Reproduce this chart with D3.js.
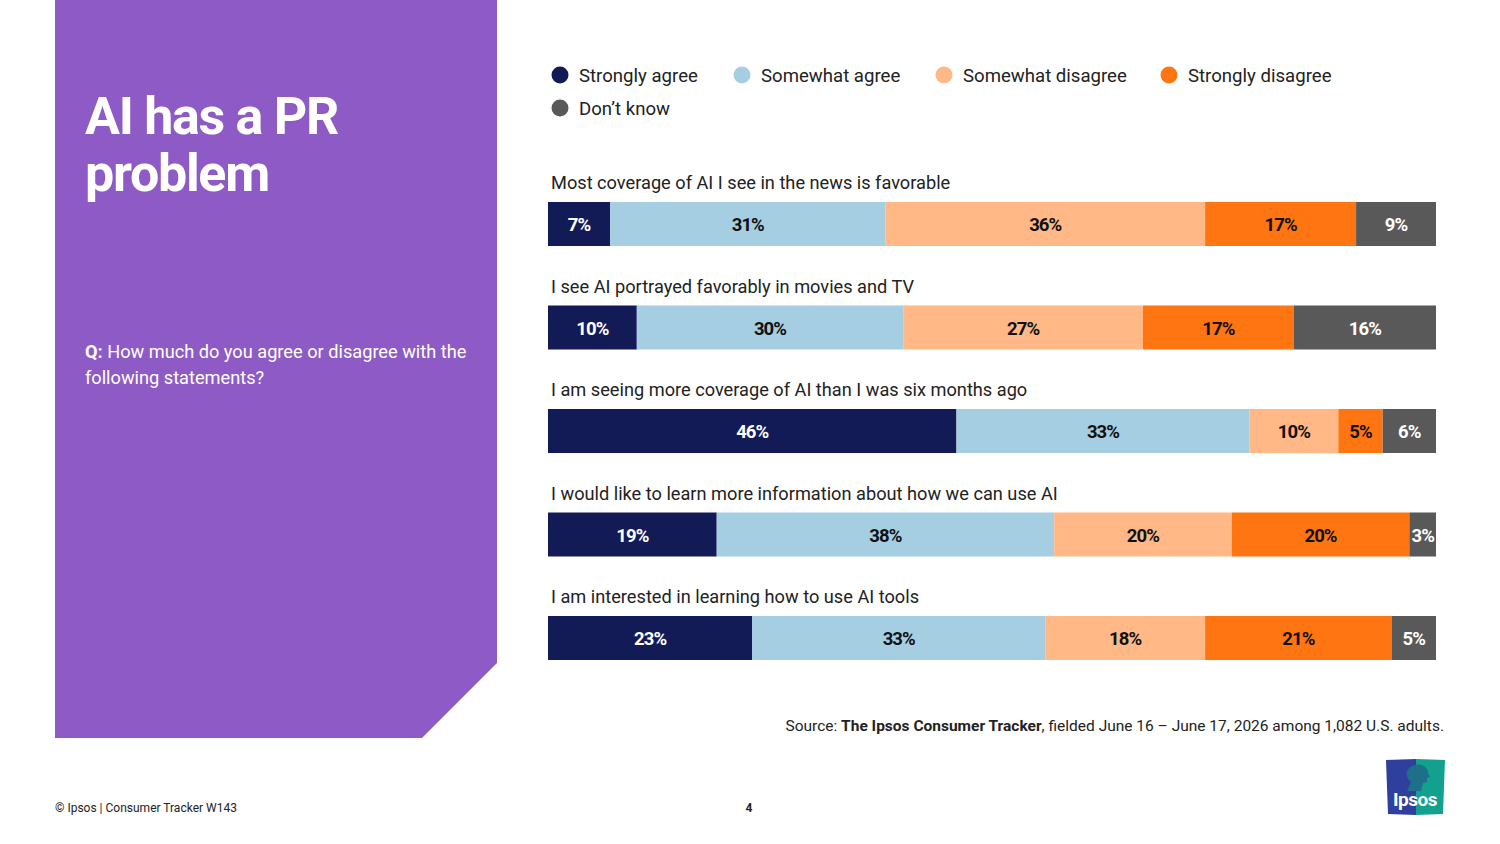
<!DOCTYPE html>
<html><head><meta charset="utf-8">
<script src="https://cdn.jsdelivr.net/npm/d3@7"></script>
<style>
html,body{margin:0;padding:0;background:#fff;}
svg{display:block;}
</style></head>
<body>
<svg id="chart" width="1500" height="844"></svg>
<script>
// ---- data ----
const statements = [
  "Most coverage of AI I see in the news is favorable",
  "I see AI portrayed favorably in movies and TV",
  "I am seeing more coverage of AI than I was six months ago",
  "I would like to learn more information about how we can use AI",
  "I am interested in learning how to use AI tools"
];
const seriesNames = ["Strongly agree","Somewhat agree","Somewhat disagree","Strongly disagree","Don\u2019t know"];
const stronglyAgree    = [7, 10, 46, 19, 23];
const somewhatAgree    = [31, 30, 33, 38, 33];
const somewhatDisagree = [36, 27, 10, 20, 18];
const stronglyDisagree = [17, 17, 5, 20, 21];
const dontKnow         = [9, 16, 6, 3, 5];
const seriesColors = ["#131b57","#a6cee3","#ffb886","#ff7511","#595959"];
const labelColors  = ["#ffffff","#111111","#111111","#111111","#ffffff"];

const svg = d3.select("#chart");
const mainFont = "Roboto, 'Noto Sans', sans-serif";

// ---- left purple panel ----
svg.append("path")
  .attr("d", "M55,0 L497,0 L497,663 L422,738 L55,738 Z")
  .attr("fill", "#8e5bc6");

const title = svg.append("text").attr("fill","#fff")
  .attr("font-family", mainFont).attr("font-weight", 700)
  .attr("font-size", 52).attr("letter-spacing", -1.3);
title.append("tspan").attr("x", 85).attr("y", 134).text("AI has a PR");
title.append("tspan").attr("x", 85).attr("y", 191).text("problem");

const q = svg.append("text").attr("fill","#fff")
  .attr("font-family", mainFont).attr("font-size", 18.2);
const l1 = q.append("tspan").attr("x", 85).attr("y", 358);
l1.append("tspan").attr("font-weight", 700).text("Q:");
l1.append("tspan").text(" How much do you agree or disagree with the");
q.append("tspan").attr("x", 85).attr("y", 384).text("following statements?");

// ---- legend ----
const legendPos = [[560,75],[742,75],[944,75],[1169,75],[560,108]];
const lg = svg.append("g");
seriesNames.forEach((s,i) => {
  const [cx, cy] = legendPos[i];
  lg.append("circle").attr("cx", cx).attr("cy", cy).attr("r", 8.5).attr("fill", seriesColors[i]);
  lg.append("text").attr("x", cx + 19).attr("y", cy).attr("dy","0.35em")
    .attr("font-family", mainFont).attr("font-size", 18.6).attr("fill", "#222")
    .text(s);
});

// ---- scales ----
const x = d3.scaleLinear().domain([0, 100]).range([548, 1436]);
const y = d3.scaleBand().domain(statements).range([202, 660]).paddingInner(0.5749).paddingOuter(0);

const rows = statements.map((st, i) => ({
  statement: st,
  values: [stronglyAgree[i], somewhatAgree[i], somewhatDisagree[i], stronglyDisagree[i], dontKnow[i]]
}));

const stack = d3.stack().keys(d3.range(5)).value((d, k) => d.values[k]);
const stacked = stack(rows);

const gBars = svg.append("g");
stacked.forEach((layer, k) => {
  const g = gBars.append("g");
  g.selectAll("rect").data(layer).join("rect")
    .attr("x", d => x(d[0]))
    .attr("y", d => y(d.data.statement))
    .attr("width", d => x(d[1]) - x(d[0]))
    .attr("height", y.bandwidth())
    .attr("fill", seriesColors[k]);
  g.selectAll("text").data(layer).join("text")
    .attr("x", d => (x(d[0]) + x(d[1])) / 2)
    .attr("y", d => y(d.data.statement) + y.bandwidth() / 2)
    .attr("dy", "0.4em")
    .attr("text-anchor", "middle")
    .attr("font-family", mainFont).attr("font-weight", 700).attr("font-size", 18.5)
    .attr("letter-spacing", -0.9)
    .attr("fill", labelColors[k])
    .text(d => (d[1] - d[0]) + "%");
});

// statement labels
svg.append("g").selectAll("text").data(statements).join("text")
  .attr("x", 551).attr("y", d => y(d) - 13)
  .attr("font-family", mainFont).attr("font-size", 18.2).attr("fill", "#222")
  .text(d => d);

// ---- source ----
const src = svg.append("text").attr("x", 1444).attr("y", 731).attr("text-anchor","end")
  .attr("font-family", mainFont).attr("font-size", 15.5).attr("fill", "#222");
src.append("tspan").text("Source: ");
src.append("tspan").attr("font-weight", 700).text("The Ipsos Consumer Tracker");
src.append("tspan").text(", fielded June 16 \u2013 June 17, 2026 among 1,082 U.S. adults.");

// ---- footer ----
svg.append("text").attr("x", 55).attr("y", 812)
  .attr("font-family", mainFont).attr("font-size", 12).attr("fill", "#222")
  .text("\u00a9 Ipsos | Consumer Tracker W143");
svg.append("text").attr("x", 749).attr("y", 812).attr("text-anchor","middle")
  .attr("font-family", mainFont).attr("font-weight", 700).attr("font-size", 12).attr("fill", "#222")
  .text("4");

// ---- logo ----
const logo = svg.append("g");
logo.append("path").attr("d","M1386,760 L1416,759 L1416,815 L1388,814 Z").attr("fill","#2f3f9e");
logo.append("path").attr("d","M1416,759 L1445,760 L1443,814 L1416,815 Z").attr("fill","#12a08f");
logo.append("path")
  .attr("d","M1412,766 C1420,762 1428,766 1428,773 L1430,777 L1427,778 L1427,782 L1423,783 L1421,791 L1407,791 L1411,782 C1405,778 1405,769 1412,766 Z")
  .attr("fill","#1d6f8a");
logo.append("text").attr("x", 1415).attr("y", 806).attr("text-anchor","middle")
  .attr("font-family", mainFont).attr("font-weight", 700).attr("font-size", 19)
  .attr("letter-spacing", -0.5).attr("fill","#fff").text("Ipsos");
</script>
</body></html>
